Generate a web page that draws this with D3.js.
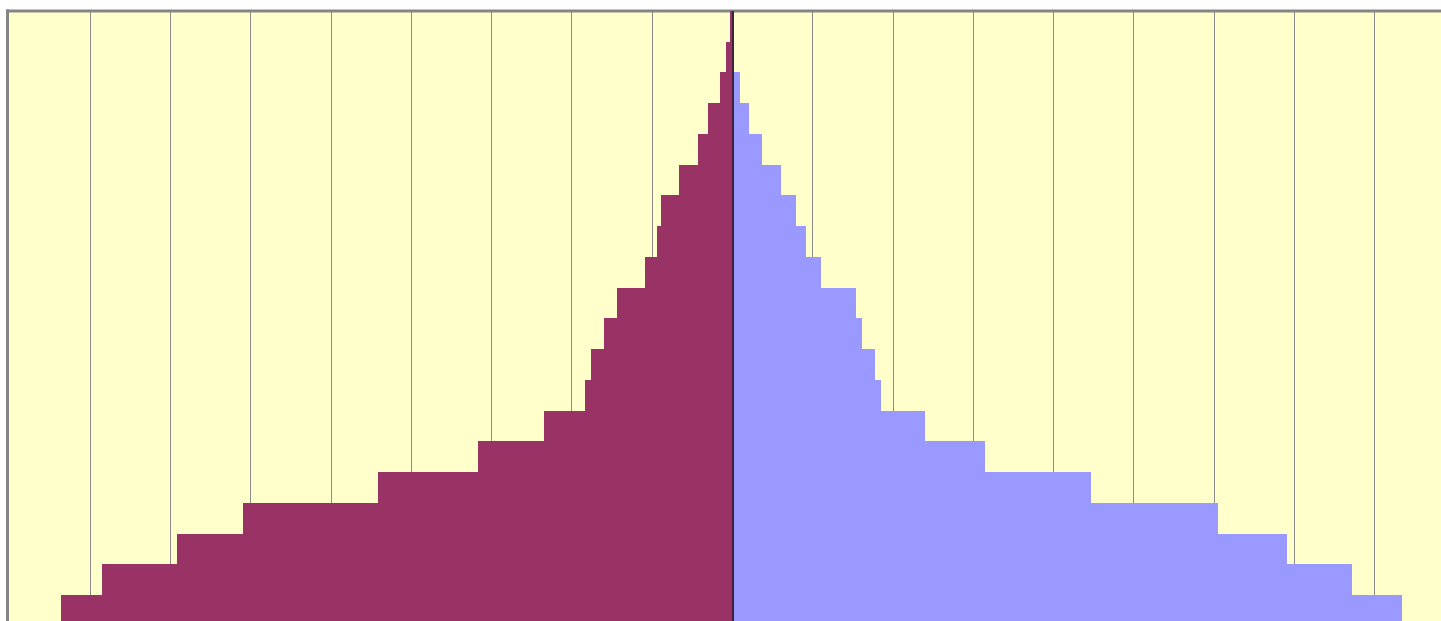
<!DOCTYPE html>
<html>
<head>
<meta charset="utf-8">
<script src="https://cdn.jsdelivr.net/npm/d3@7"></script>
<style>
  html, body { margin: 0; padding: 0; background: #ffffff; overflow: hidden; }
  svg { display: block; }
</style>
</head>
<body>
<script>
// Age groups, top row = oldest
const ageGroups = ["95-99","90-94","85-89","80-84","75-79","70-74","65-69","60-64","55-59","50-54",
                   "45-49","40-44","35-39","30-34","25-29","20-24","15-19","10-14","5-9","0-4"];
// Left side (maroon) values
const leftValues  = [0.25, 0.75, 1.5, 3.0, 4.2, 6.6, 8.8, 9.3, 10.8, 14.3,
                     15.9, 17.6, 18.3, 23.4, 31.6, 44.1, 60.9, 69.1, 78.5, 83.6];
// Right side (blue) values
const rightValues = [0, 0, 1.0, 2.1, 3.7, 6.1, 8.0, 9.2, 11.1, 15.4,
                     16.2, 17.8, 18.6, 24.0, 31.5, 44.7, 60.5, 69.1, 77.2, 83.5];
// Grid tick values
const gridTicks = [-80,-70,-60,-50,-40,-30,-20,-10,10,20,30,40,50,60,70,80];

const W = 1441, H = 621;
const svg = d3.select("body").append("svg").attr("width", W).attr("height", H);

const x = d3.scaleLinear().domain([-90.2, 90.2]).range([7.9, 1456.1]);
const y = d3.scaleBand().domain(ageGroups).range([11, 11 + 20 * 30.74]).padding(0);

// plot background
svg.append("rect")
  .attr("x", x(-90.2)).attr("y", 11)
  .attr("width", W + 40).attr("height", H + 40)
  .attr("fill", "#FFFFCC");

// gridlines
svg.append("g").selectAll("line").data(gridTicks).join("line")
  .attr("x1", d => Math.round(x(d)) + 0.5).attr("x2", d => Math.round(x(d)) + 0.5)
  .attr("y1", 11).attr("y2", H + 20)
  .attr("stroke", "#8c8c8c").attr("stroke-width", 1);

// borders
svg.append("line").attr("x1", 6).attr("x2", W + 20).attr("y1", 11).attr("y2", 11)
  .attr("stroke", "#858585").attr("stroke-width", 3);
svg.append("line").attr("x1", 7.5).attr("x2", 7.5).attr("y1", 9.5).attr("y2", H + 20)
  .attr("stroke", "#858585").attr("stroke-width", 3);

// left bars
svg.append("g").selectAll("rect").data(ageGroups).join("rect")
  .attr("x", (d, i) => x(-leftValues[i]))
  .attr("y", d => y(d))
  .attr("width", (d, i) => x(0) - x(-leftValues[i]))
  .attr("height", y.bandwidth())
  .attr("fill", "#993366")
  .attr("shape-rendering", "crispEdges");

// right bars
svg.append("g").selectAll("rect").data(ageGroups).join("rect")
  .attr("x", x(0))
  .attr("y", d => y(d))
  .attr("width", (d, i) => x(rightValues[i]) - x(0))
  .attr("height", y.bandwidth())
  .attr("fill", "#9999FF")
  .attr("shape-rendering", "crispEdges");

// center axis line
svg.append("line")
  .attr("x1", x(0) + 1).attr("x2", x(0) + 1)
  .attr("y1", 11).attr("y2", H + 20)
  .attr("stroke", "#3a2440").attr("stroke-width", 2);
</script>
</body>
</html>
